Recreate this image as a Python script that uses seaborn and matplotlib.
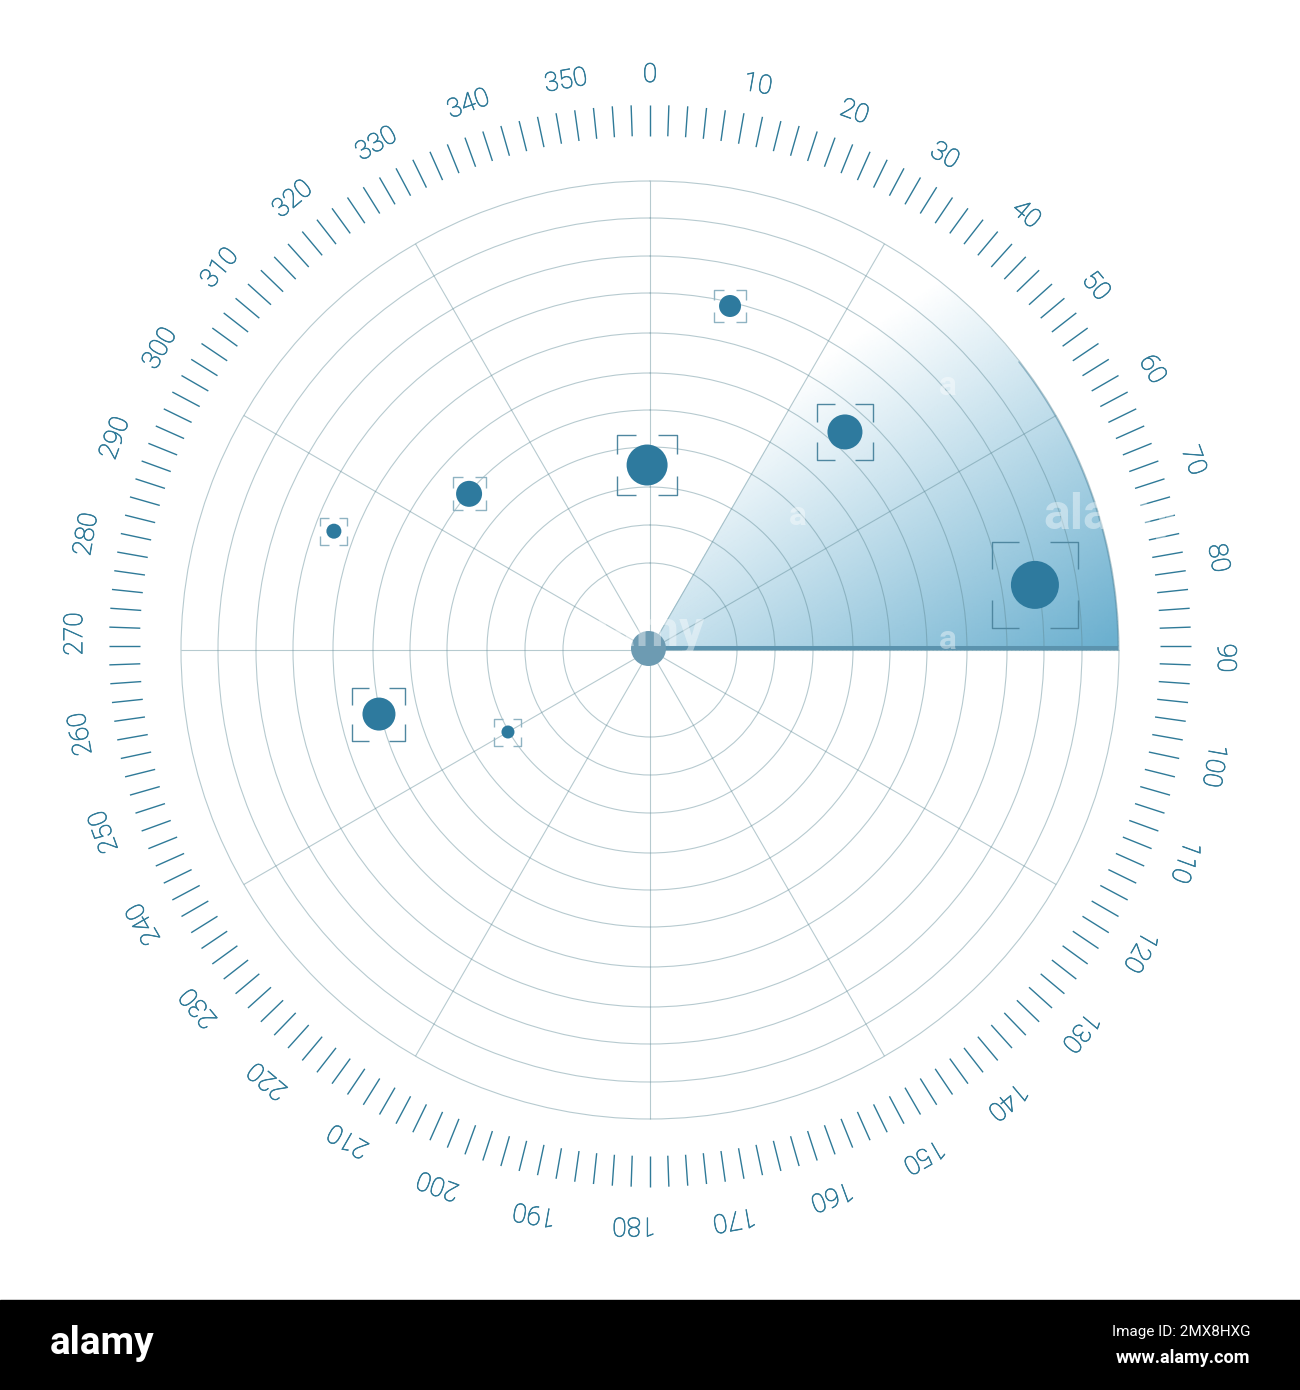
import numpy as np
import pandas as pd
import seaborn as sns
import matplotlib.pyplot as plt
import matplotlib.patheffects as pe
from matplotlib.path import Path
from matplotlib.patches import Rectangle
from matplotlib.transforms import offset_copy

# blips: bearing (deg), range (px from centre), sizes in px
bearing = [80.4, 41.8, 13.1, 359.1, 310.8, 290.6, 256.7, 240.0]
distance = [390.4, 292.5, 353.2, 185.0, 239.0, 337.7, 278.5, 164.0]
dot_size = [48, 35, 22, 41, 26, 15, 33, 13]
box_size = [86, 56, 32, 60, 33, 27, 53, 27]

ring_radii = [87, 125, 163, 203, 240, 277, 317, 357, 394, 432, 469]
spoke_bearings = [0, 30, 60, 90, 120, 150, 180, 210, 240, 270, 300, 330]
tick_bearings = list(range(0, 360, 2))
label_bearings = list(range(0, 360, 10))
sweep_start, sweep_end = 30, 90

W, H = 1300, 1390
DOT = "#2e7a9e"
TICK = "#2f7a98"
TEXT = "#2f7a98"
GRID = "#5f8a96"


def px(x, y):
    return x / W, 1 - y / H


sns.set_style("white")
plt.rcParams["font.family"] = ["Roboto", "DejaVu Sans"]

fig = plt.figure(figsize=(W / 100, H / 100), dpi=100, facecolor="white")
ax = fig.add_axes([0, 90 / H, 1, 1300 / H], projection="polar")
ax.set_theta_zero_location("N")
ax.set_theta_direction(-1)
ax.patch.set_visible(False)
ax.spines["polar"].set_visible(False)

# sweep wedge, colour runs diagonally from white to blue
th = np.deg2rad(np.linspace(sweep_start, sweep_end, 121))
rr = np.linspace(0, ring_radii[-1] - 1, 120)
T, R = np.meshgrid(th, rr)
shade = 0.371 + 0.0014 * R * np.sin(T) - 0.0021 * R * np.cos(T)
sweep_cmap = sns.blend_palette(["white", "#6cb0cf"], as_cmap=True)
ax.pcolormesh(T, R, shade, cmap=sweep_cmap, vmin=0, vmax=1, shading="gouraud", zorder=0)

# rings and spokes
ax.set_yticks(ring_radii)
ax.set_yticklabels([])
ax.set_xticks([])
ax.grid(True, axis="y", color=GRID, alpha=0.45, lw=0.8)
ax.vlines(np.deg2rad(spoke_bearings), 0, ring_radii[-1], color=GRID, alpha=0.45, lw=0.8, zorder=1)

# outer scale
up4 = offset_copy(ax.transData, fig=fig, x=0, y=4, units="dots")
ax.vlines(np.deg2rad(tick_bearings), 510, 541, color=TICK, lw=1.0, transform=up4)
for b in label_bearings:
    shift = 0 if b == 0 else (0.8 if b < 100 else 1.6)
    ax.text(np.deg2rad(b + shift), 575, str(b), rotation=-b, rotation_mode="anchor",
            ha="center", va="center", color=TEXT, fontsize=19, fontweight="light",
            path_effects=[pe.withStroke(linewidth=0.45, foreground=TEXT)])

# sweep edges and hub
up2 = offset_copy(ax.transData, fig=fig, x=0, y=2, units="dots")
edge = np.deg2rad(np.linspace(52, sweep_end, 80))
ax.plot(edge, np.full(edge.shape, ring_radii[-1] - 1), color="#5d92aa", lw=0.9, alpha=0.6, zorder=2)
ax.plot(np.deg2rad([90, 90]), [15, ring_radii[-1] - 1], color="#5b93ae", lw=2.9,
        solid_capstyle="butt", transform=up2, zorder=2)
hub = offset_copy(ax.transData, fig=fig, x=-2.5, y=2, units="dots")
ax.scatter([0], [0], s=(35 * 0.72) ** 2, color="#6d9bb2", linewidths=0, transform=hub, zorder=3)

# blips
blips = pd.DataFrame({
    "bearing": np.deg2rad(bearing),
    "distance": distance,
    "dot": dot_size,
})
sns.scatterplot(data=blips, x="bearing", y="distance", size="dot",
                sizes={d: (d * 0.72) ** 2 for d in dot_size},
                color=DOT, linewidth=0, legend=False, ax=ax, zorder=4)

# corner brackets as one custom marker
a = 0.32
verts, codes = [], []
for sx, sy in [(-1, -1), (1, -1), (1, 1), (-1, 1)]:
    verts += [(sx * (1 - 2 * a), sy), (sx, sy), (sx, sy * (1 - 2 * a))]
    codes += [Path.MOVETO, Path.LINETO, Path.LINETO]
bracket = Path(verts, codes)
ax.scatter(blips["bearing"], blips["distance"], s=[(b * 0.72) ** 2 for b in box_size],
           marker=bracket, facecolors="none",
           edgecolors=["#4f87a0" if b >= 50 else "#8fb3c2" for b in box_size],
           linewidths=1.0, zorder=4)

ax.set_xlabel("")
ax.set_ylabel("")
ax.set_ylim(0, 650)

# faint stamp marks on the wedge
clip = ax.fill(th.tolist() + [th[-1]], [ring_radii[-1]] * len(th) + [0], fc="none", ec="none")[0]
for x, y, s, fs, ha in [(1043, 515, "alamy", 36, "left"), (948, 386, "a", 24, "center"),
                        (798, 516, "a", 24, "center"), (948, 640, "a", 24, "center"),
                        (705, 632, "alamy", 36, "right")]:
    t = fig.text(*px(x, y), s, color="white", alpha=0.4, fontsize=fs, fontweight="bold",
                 ha=ha, va="center")
    t.set_clip_path(clip)

# black footer band
fig.add_artist(Rectangle((0, 0), 1, 90 / H, transform=fig.transFigure, color="black", zorder=1))
fig.text(*px(50, 1343), "alamy", color="white", fontsize=28, fontweight="bold", ha="left", va="center", zorder=2)
fig.text(*px(1250, 1332), "Image ID: 2MX8HXG", color="white", fontsize=11, ha="right", va="center", zorder=2)
fig.text(*px(1250, 1358), "www.alamy.com", color="white", fontsize=13, fontweight="bold", ha="right",
         va="center", zorder=2)

fig.savefig("out.png", dpi=100)
